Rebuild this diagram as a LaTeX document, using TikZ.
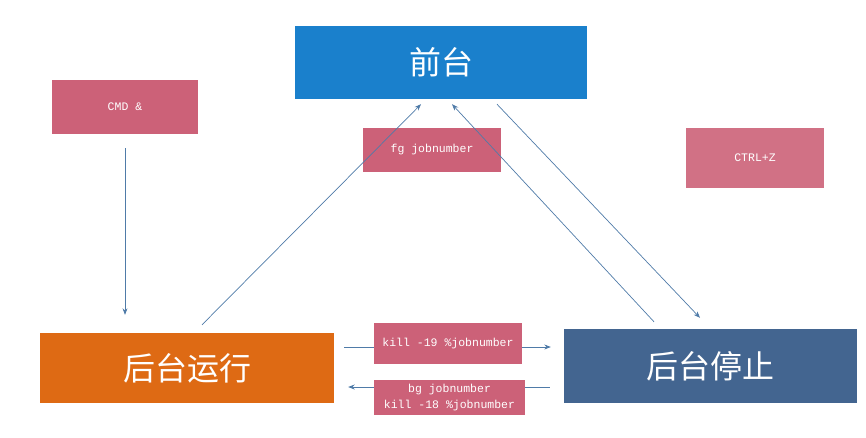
\documentclass[tikz,border=0pt]{standalone}
\usepackage{fontspec}
\setmonofont{Liberation Mono}
\newfontfamily\cjk{Noto Sans CJK SC}
\usetikzlibrary{arrows.meta,backgrounds}

\definecolor{frontblue}{HTML}{1A80CC}
\definecolor{stopblue}{HTML}{436590}
\definecolor{runorange}{HTML}{DE6A14}
\definecolor{cmdpink}{HTML}{CC6178}
\definecolor{linkblue}{HTML}{4F7BA8}

\tikzset{
	state/.style={fill=#1, text=white, inner sep=0pt, font=\cjk\fontsize{32}{36}\selectfont},
	cmdbox/.style={fill=cmdpink, text=white, inner sep=0pt, align=center, font=\ttfamily\fontsize{11.5}{15.5}\selectfont},
	link/.style={draw=linkblue, line width=0.7pt, -{Stealth[length=6.5pt,width=5pt]}}
}

\begin{document}
\begin{tikzpicture}[x=1pt, y=-1pt]
		%%%%% START %%%%%
		\useasboundingbox (0, 0) rectangle (866, 437);
		
		\node[state=frontblue, minimum width=292pt, minimum height=73pt] (front) at (441, 62.5) {前台};
		\node[state=runorange, minimum width=294pt, minimum height=70pt] (run) at (187, 368) {后台运行};
		\node[state=stopblue, minimum width=293pt, minimum height=74pt] (stop) at (710.5, 366) {后台停止};
		
		\node[cmdbox, minimum width=146pt, minimum height=54pt] (cmd) at (125, 107) {CMD \&};
		\node[cmdbox, minimum width=138pt, minimum height=44pt] (fg) at (432, 150) {fg jobnumber};
		\node[cmdbox, fill=cmdpink!90!white, minimum width=138pt, minimum height=60pt] (ctrlz) at (755, 158) {CTRL+Z};
		\node[cmdbox, minimum width=148pt, minimum height=41pt] (kill) at (448, 343.5) {kill -19 \%jobnumber};
		\node[cmdbox, minimum width=151pt, minimum height=35pt] (bg) at (449.5, 397.5) {bg jobnumber\\kill -18 \%jobnumber};
		
		\draw[link, shorten <=14pt, shorten >=18pt] (cmd.south) -- (cmd.south |- run.north);
		\draw[link] ([xshift=15pt, yshift=8pt]run.north) -- ([xshift=-20pt, yshift=-5pt]front.south);
		\draw[link] ([xshift=-56.5pt, yshift=7pt]stop.north) -- ([xshift=11pt, yshift=-5pt]front.south);
		\draw[link] ([xshift=56pt, yshift=-5pt]front.south) -- ([xshift=-10.5pt, yshift=11pt]stop.north);
		
		\begin{pgfonlayer}{background}
			\draw[link, shorten <=10pt, shorten >=13pt] ([yshift=21pt]run.east) -- ([yshift=21pt]run.east -| stop.west);
			\draw[link, shorten <=14pt, shorten >=14pt] ([yshift=-19pt]run.east -| stop.west) -- ([yshift=-19pt]run.east);
		\end{pgfonlayer}
		
		%%%%% END %%%%%
	\end{tikzpicture}
\end{document}
